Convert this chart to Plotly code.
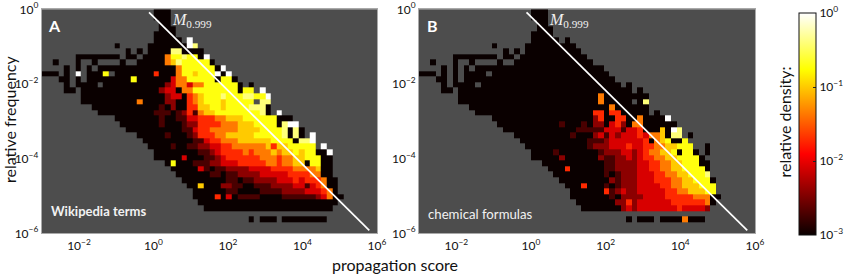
import plotly.graph_objects as go

# Density levels per cell, top row first. "." = no data; 0-9 = steps of log density from 1e-3 to 1e0
A_ROWS = [
 "."*20+"000",
 "."*20+"000",
 "."*21+"00",
 "."*21+"000",
 "."*20+"0000",
 "."*20+"00000.9",
 "."*13+"0"+"."*5+"0"*7+"98",
 "."*15+"0.0."+"0"*4+"88"+"0000",
 "."*6+"0"*8+".00."+"0"*4+"57787709",
 "..0...0..0....0.."+"0"*5+"56877777"+"0",
 "....0.0.0."+"0"*14+"5"+"777777"+"0"+"9",
 "000.0.9.000"+"7."+"0"*7+"4"+"000"+"5776"+"777"+"909",
 "...00.0."+"0"*8+"7"+"0"*6+"355"+"77777"+"0770",
 "....0.0000."+"0"*11+"2355355"+"777777"+"0.0",
 "....00."+"0"*14+"233055"+"7"*8+"0"+"77"+"."+"9",
 "."*7+"0"*15+"2330456"+"77787778877"+"9",
 "."*7+"0"*10+"5"+"0"*4+"2200456"+"777677777"+".88",
 "."*9+"0"*12+"102004466"+"7767777888"+"0",
 "."*10+"0"*10+"1110124"+"1"+"5"+"6"+"6777777778"+"0"+"."+"9",
 "."*13+"0"*8+"100113344455666"+"777777"+"000",
 "."*14+"0"*7+"1000"+"1224444555666"+"7777"+"0"+"8"+"99",
 "."*15+"0"*10+"11344"+"55555"+"6666"+"7777"+"8"+"080",
 "."*17+"0"*5+"1000"+"12"+"444"+"55"+"66666"+"77777"+"8"+"080"+".9",
 "."*18+"0"*9+"113"+"44"+"555"+"666666"+"7777"+"0889",
 "."*19+"0000"+"1"+"00"+"11"+"22"+"33"+"44"+"555555"+"6466"+"77777"+".9",
 "."*20+"0"*6+"00"+"11"+"2"+"3"+"4444"+"5"+"4"+"555"+"6"+"5"+"66"+"7"+"6"+"77"+"00"+"9",
 "."*20+"0"*5+"3"+"000"+"11"+"2"+"3"+"444444"+"555"+"4"+"55"+"66"+"777"+"00",
 "."*22+"0"+"7"+"000"+"111"+"22"+"333"+"44444"+"55"+"4"+"55"+"66"+"0"+"77"+"00",
 "."*23+"0"*5+"3"+"1"+"0"+"11"+"2222"+"3333"+"4444"+"5555"+"6"+"00",
 "."*24+"0"*6+"11"+"0"+"11"+"2222"+"33333"+"4444"+"55"+"00",
 "."*25+"0"*8+"11"+"0"+"11"+"2222"+"333"+"4"+"3"+"444"+"5"+"00",
 "."*26+"00"+"6"+"000"+"22"+"11"+"00"+"111"+"2222"+"33"+"1"+"3"+"4"+"5"+"00",
 "."*27+"0"*5+"0"+"11"+"0000"+"1111"+"2222"+"333"+"4"+"5"+"0",
 "."*27+"0000"+"4"+"0"+"3"+"0"+"1111"+"0000"+"111111"+"2"+"3"+"5"+"00",
 "."*28+"0"*25,
 "."*29+"0"*23,
 "",
 "."*37+"0.000."+"0"*8,
 "",
 "",
]

B_ROWS = [
 "."*20+"000",
 "."*20+"000",
 "."*21+"00",
 "."*21+"000",
 "."*20+"0000",
 "."*20+"00000.0",
 "."*13+"0"+"."*5+"0"*9,
 "."*15+"0.0."+"0"*10,
 "."*6+"0"*8+".00."+"0"*12,
 "..0...0..0....0.."+"0"*14,
 "....0.0.0."+"0"*23,
 "000.0.0."+"0000"+"."+"0"*21,
 "...00.0."+"0"*27,
 "....0.0000."+"0"*25+".0",
 "....00."+"0"*31+".0",
 "."*7+"0"*25+"5"+"0"*8,
 "."*7+"0"*25+"5"+"0"*5+".08",
 "."*9+"0"*25+"5"+"0"*6,
 "."*10+"0"*21+"44"+"0"+"44"+"0"*5+".0",
 "."*13+"0"*18+"24"+"00"+"44"+"00"+"5"+"0000"+"9",
 "."*14+"0"*11+"1"+"000"+"1"+"0"+"22"+"0"+"34"+"2"+"0"+"55"+"000"+"0"+"00",
 "."*15+"0"*13+"11111"+"333"+"1"+"3"+"3"+"4"+"000"+"6"+"0"+"98",
 "."*17+"0"*10+"1"+"000"+"2"+"3"+"1"+"3"+"2"+"333"+"4"+"3"+"55"+"6"+"0"+"88"+".0",
 "."*18+"0"*12+"111"+"2"+"333333"+"4"+"0"+"5"+"6"+"7"+"00"+"7",
 "."*19+"0"*11+"1"+"222"+"333"+"4"+"33"+"44"+"55"+"66"+"777"+"..0",
 "."*20+"0"*4+"1"+"0"*7+"1"+"222"+"33"+"2"+"3"+"4"+"55"+"66"+"7"+"0"+"77"+"0.0",
 "."*20+"0"*5+"2"+"0"*5+"0"+"2"+"11"+"22"+"3"+"2"+"3"+"44"+"55"+"66"+"7777"+"0",
 "."*22+"0"*10+"0"+"11"+"2222"+"33"+"44"+"55"+"66"+"777"+"00",
 "."*23+"000"+"4"+"0"*6+"11"+"2222"+"33"+"44"+"55"+"66"+"7777"+"0",
 "."*24+"0"*9+"1"+"0"+"1"+"222"+"333"+"44"+"55"+"66"+"777"+"8",
 "."*25+"0"*9+"2"+"1"+"222"+"333"+"444"+"55"+"66"+"777"+"0",
 "."*26+"000"+"4"+"000"+"1"+"0"+"1"+"222"+"3333"+"44"+"55"+"666"+"777",
 "."*27+"0"*6+"4"+"1"+"2"+"3"+"22"+"33333"+"44"+"55"+"666"+"77",
 "."*27+"0"*7+"1"+"0"+"2222"+"3333"+"44444"+"555"+"00",
 "."*28+"0"*7+"22"+"4"+"2"+"333333"+"444444"+"5"+"0",
 "."*29+"0"*7+"2"+"3"+"2"+"3"+"3"+"3333343333"+"2",
 "",
 "."*37+"0.000."+"0000"+"5"+"000",
 "",
 "",
]

LEVEL_LOG = [-3.0, -2.72, -2.42, -2.08, -1.72, -1.36, -1.0, -0.72, -0.4, 0.0]
X_TICKS = [1e-2, 1e0, 1e2, 1e4, 1e6]
X_LABELS = ["10<sup>−2</sup>", "10<sup>0</sup>", "10<sup>2</sup>", "10<sup>4</sup>", "10<sup>6</sup>"]
Y_TICKS = [1e-6, 1e-4, 1e-2, 1e0]
Y_LABELS = ["10<sup>−6</sup>", "10<sup>−4</sup>", "10<sup>−2</sup>", "10<sup>0</sup>"]
M_X = [0.76, 6.2e5]
M_Y = [0.83, 1.2e-6]
CB_TICKS = [-3, -2, -1, 0]
CB_LABELS = ["10<sup>−3</sup>", "10<sup>−2</sup>", "10<sup>−1</sup>", "10<sup>0</sup>"]

FONT = "Lato"
W, H = 845, 274
NCOL, NROW = 60, 40
X_EDGES = [10 ** (-3 + 9 * i / NCOL) for i in range(NCOL + 1)]
Y_EDGES = [10 ** (-6 + 6 * j / NROW) for j in range(NROW + 1)]


def decode(rows):
    out = []
    for r in reversed(rows):
        r = r.ljust(NCOL, ".")
        out.append([None if c == "." else LEVEL_LOG[int(c)] for c in r])
    return out


HOT = [[0, "#0a0000"], [0.365, "#ff0000"], [0.746, "#ffff00"], [1, "#ffffff"]]
fig = go.Figure()
for rows, xa, ya in [(A_ROWS, "x", "y"), (B_ROWS, "x2", "y2")]:
    fig.add_trace(go.Heatmap(x=X_EDGES, y=Y_EDGES, z=decode(rows), xaxis=xa, yaxis=ya,
                             coloraxis="coloraxis", hoverongaps=False))
    fig.add_trace(go.Scatter(x=M_X, y=M_Y, xaxis=xa, yaxis=ya, mode="lines",
                             line=dict(color="white", width=1.7), showlegend=False))

top, bottom = 9.3, 233.3
ydom = [1 - bottom / H, 1 - top / H]
common_x = dict(type="log", range=[-3, 6], tickvals=X_TICKS, ticktext=X_LABELS, ticks="",
                showgrid=False, zeroline=False, showline=True, mirror=True,
                linecolor="#a9a9a9", linewidth=1, ticklabelstandoff=1,
                tickfont=dict(family=FONT, size=12, color="#111"))
common_y = dict(type="log", range=[-6, 0], tickvals=Y_TICKS, ticktext=Y_LABELS, ticks="",
                showgrid=False, zeroline=False, showline=True, mirror=True,
                linecolor="#a9a9a9", linewidth=1,
                tickfont=dict(family=FONT, size=12, color="#111"),
                domain=ydom)


def txt(x, y, text, size, color="#111", angle=0, family=FONT, anchor="center"):
    return dict(x=x / W, y=1 - y / H, xref="paper", yref="paper", text=text, showarrow=False,
                font=dict(family=family, size=size, color=color), textangle=angle,
                xanchor=anchor, yanchor="middle")


fig.update_layout(
    width=W, height=H, margin=dict(l=0, r=0, t=0, b=0, autoexpand=False), paper_bgcolor="white",
    plot_bgcolor="#4d4d4d", showlegend=False,
    font=dict(family=FONT, color="#111"),
    xaxis=dict(common_x, domain=[41.7 / W, 377 / W], anchor="y"),
    yaxis=dict(common_y, anchor="x"),
    xaxis2=dict(common_x, domain=[419 / W, 755 / W], anchor="y2"),
    yaxis2=dict(common_y, anchor="x2"),
    coloraxis=dict(cmin=-3, cmax=0, colorscale=HOT,
                   colorbar=dict(thickness=17, thicknessmode="pixels", len=222, lenmode="pixels",
                                 x=799 / W, xanchor="left", y=1 - 124 / H, yanchor="middle",
                                 tickvals=CB_TICKS, ticktext=CB_LABELS, ticks="inside", ticklen=3,
                                 tickcolor="#222", outlinecolor="#111", outlinewidth=1, xpad=0, ypad=0,
                                 tickfont=dict(family=FONT, size=12, color="#111"))),
    annotations=[
        txt(54.5, 25.5, "<b>A</b>", 16, "white"),
        txt(432, 25.5, "<b>B</b>", 16, "white"),
        txt(98.5, 210.5, "<b>Wikipedia terms</b>", 13, "#f2f2f2"),
        txt(480.5, 214, "chemical formulas", 13.2, "#f2f2f2"),
        txt(191.5, 20, "<i>M</i><sub>0.999</sub>", 16, "#f0f0f0", family="Liberation Serif"),
        txt(569, 20, "<i>M</i><sub>0.999</sub>", 16, "#f0f0f0", family="Liberation Serif"),
        txt(9, 120, "relative frequency", 16, angle=-90),
        txt(395, 264, "propagation score", 16),
        txt(784, 122.5, "relative density:", 16, angle=-90),
    ],
)

fig.write_html("out.html", config={"displayModeBar": False},
               post_script="document.body.style.margin='0';document.documentElement.style.overflow='hidden';")
